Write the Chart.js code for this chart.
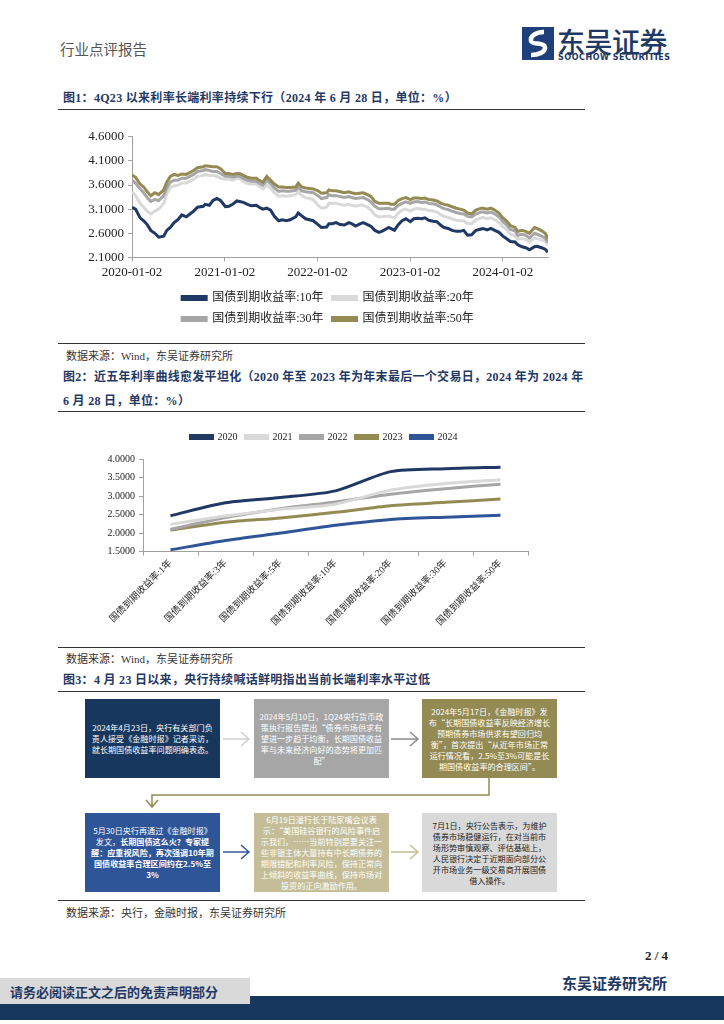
<!DOCTYPE html>
<html>
<head>
<meta charset="utf-8">
<script src="https://cdn.jsdelivr.net/npm/chart.js@4.4.1/dist/chart.umd.min.js"></script>
<style>
  body { margin: 0; background: #fff; }
  #page { position: relative; width: 724px; height: 1024px; overflow: hidden;
          font-family: 'Liberation Serif', 'Times New Roman', 'Noto Sans CJK SC', serif; }
  .abs { position: absolute; }
  .title { position: absolute; left: 63px; font-size: 12px; font-weight: bold; color: #1f3864; line-height: 24px; letter-spacing: 0.3px; }
  .rule { position: absolute; left: 58px; width: 527px; height: 0; border-top: 1.5px solid #333; }
  .src { position: absolute; left: 66px; font-size: 11px; color: #333; }
  .box { position: absolute; width: 135px; height: 79px; display: flex; align-items: center; justify-content: center;
         text-align: center; font-size: 8.1px; line-height: 1.36; color: #fff; padding: 0 5px; box-sizing: border-box;
         font-family: 'Noto Sans CJK SC', sans-serif; }
</style>
</head>
<body>
<div id="page">

  <div class="abs" style="left:60px;top:38px;font-size:14.5px;color:#555;font-family:'Noto Sans CJK SC';">行业点评报告</div>

  <svg class="abs" style="left:522px;top:27px" width="32" height="33" viewBox="0 0 32 33">
    <rect x="0" y="0" width="32" height="33" fill="#1f3f7a"/>
    <path d="M22 5 C14 5 8 9 9 14 C10 18 22 15 23 20 C24 25 16 28 9 28" stroke="#fff" stroke-width="4.5" fill="none"/>
  </svg>
  <div class="abs" style="left:557px;top:21px;font-size:28px;color:#1f3864;font-family:'Noto Sans CJK SC';font-weight:500;letter-spacing:-0.5px">东吴证券</div>
  <div class="abs" style="left:558px;top:53px;font-size:8px;color:#1f3864;font-family:'DejaVu Sans';font-weight:bold;letter-spacing:0.55px">SOOCHOW SECURITIES</div>

  <div class="title" style="top:86px">图1：4Q23 以来利率长端利率持续下行（2024 年 6 月 28 日，单位：%）</div>
  <div class="rule" style="top:109px"></div>

  <div class="abs" style="left:60px;top:125px;width:546px;height:210px"><canvas id="curveHistory"></canvas></div>

  <div class="rule" style="top:343px"></div>
  <div class="src" style="top:347px">数据来源：Wind，东吴证券研究所</div>

  <div class="title" style="top:365px;width:525px">图2：近五年利率曲线愈发平坦化（2020 年至 2023 年为年末最后一个交易日，2024 年为 2024 年<br>6 月 28 日，单位：%）</div>
  <div class="rule" style="top:411px"></div>

  <div class="abs" style="left:60px;top:431px;width:527px;height:199px"><canvas id="curveShape"></canvas></div>

  <div class="rule" style="top:647px"></div>
  <div class="src" style="top:650px">数据来源：Wind，东吴证券研究所</div>

  <div class="title" style="top:668px">图3：4 月 23 日以来，央行持续喊话鲜明指出当前长端利率水平过低</div>
  <div class="rule" style="top:691px"></div>

  <div class="box" style="left:85px;top:699px;background:#17375e"><div>2024年4月23日，央行有关部门负责人接受《金融时报》记者采访，就长期国债收益率问题明确表态。</div></div>
  <div class="box" style="left:254px;top:699px;background:#a6a6a6"><div>2024年5月10日，1Q24央行货币政策执行报告提出“债券市场供求有望进一步趋于均衡，长期国债收益率与未来经济向好的态势将更加匹配”</div></div>
  <div class="box" style="left:422px;top:699px;background:#948a54"><div>2024年5月17日，《金融时报》发布“长期国债收益率反映经济增长预期债券市场供求有望回归均衡”，首次提出“从近年市场正常运行情况看，2.5%至3%可能是长期国债收益率的合理区间”。</div></div>

  <div class="box" style="left:85px;top:813px;background:#2e5597"><div>5月30日央行再通过《金融时报》发文，<b>长期国债这么火？专家提醒：应重视风险，再次强调10年期国债收益率合理区间约在2.5%至3%</b></div></div>
  <div class="box" style="left:254px;top:813px;background:#c4bd97"><div>6月19日潘行长于陆家嘴会议表示：“美国硅谷银行的风险事件启示我们，……当前特别是要关注一些非银主体大量持有中长期债券的期限错配和利率风险，保持正常向上倾斜的收益率曲线，保持市场对投资的正向激励作用。</div></div>
  <div class="box" style="left:422px;top:813px;background:#d9d9d9;color:#222;padding:0 9px"><div>7月1日，央行公告表示，为维护债券市场稳健运行，在对当前市场形势审慎观察、评估基础上，人民银行决定于近期面向部分公开市场业务一级交易商开展国债借入操作。</div></div>

  <svg class="abs" style="left:0;top:690px" width="724" height="220">
    <g fill="none" stroke-width="1.5">
      <path d="M223 49 H249 M241 42 L249 49 L241 56" stroke="#d0d0d0"/>
      <path d="M391 49 H418 M410 42 L418 49 L410 56" stroke="#8c8c8c"/>
      <path d="M489 88 V105 H152 V117 M146 110 L152 117 L158 110" stroke="#948a54"/>
      <path d="M223 162 H249 M241 155 L249 162 L241 169" stroke="#2e5597"/>
      <path d="M391 162 H418 M410 155 L418 162 L410 169" stroke="#c4bd97"/>
    </g>
  </svg>

  <div class="rule" style="top:900px"></div>
  <div class="src" style="top:904px">数据来源：央行，金融时报，东吴证券研究所</div>

  <div class="abs" style="left:645px;top:948px;font-size:13px;font-weight:bold;color:#222">2 / 4</div>
  <div class="abs" style="left:562px;top:972px;font-size:15px;font-weight:bold;color:#1f3864;font-family:'Noto Sans CJK SC'">东吴证券研究所</div>
  <div class="abs" style="left:0;top:996px;width:724px;height:24px;background:#17375e"></div>
  <div class="abs" style="left:0;top:978px;width:250px;height:26px;background:#d9d9d9"></div>
  <div class="abs" style="left:10px;top:982px;font-size:13px;font-weight:bold;color:#1f3864;font-family:'Noto Sans CJK SC'">请务必阅读正文之后的免责声明部分</div>
</div>

<script>
// Chart 1 data: semi-monthly readings of the daily yield series
const dates = [
  '2020-01-02','2020-01-16','2020-02-03','2020-02-17','2020-03-02','2020-03-16','2020-04-01','2020-04-16','2020-05-06','2020-05-18','2020-06-01','2020-06-16',
  '2020-07-01','2020-07-16','2020-08-03','2020-08-17','2020-09-01','2020-09-16','2020-10-09','2020-10-16','2020-11-02','2020-11-16','2020-12-01','2020-12-16',
  '2021-01-04','2021-01-18','2021-02-01','2021-02-18','2021-03-01','2021-03-16','2021-04-01','2021-04-16','2021-05-06','2021-05-17','2021-06-01','2021-06-16',
  '2021-07-01','2021-07-16','2021-08-02','2021-08-16','2021-09-01','2021-09-16','2021-10-08','2021-10-18','2021-11-01','2021-11-16','2021-12-01','2021-12-16',
  '2022-01-04','2022-01-17','2022-02-07','2022-02-16','2022-03-01','2022-03-16','2022-04-01','2022-04-18','2022-05-05','2022-05-16','2022-06-01','2022-06-16',
  '2022-07-01','2022-07-18','2022-08-01','2022-08-16','2022-09-01','2022-09-16','2022-10-10','2022-10-17','2022-11-01','2022-11-16','2022-12-01','2022-12-16',
  '2023-01-03','2023-01-16','2023-02-01','2023-02-16','2023-03-01','2023-03-16','2023-04-03','2023-04-17','2023-05-04','2023-05-16','2023-06-01','2023-06-16',
  '2023-07-03','2023-07-17','2023-08-01','2023-08-16','2023-09-01','2023-09-18','2023-10-09','2023-10-16','2023-11-01','2023-11-16','2023-12-01','2023-12-18',
  '2024-01-02','2024-01-16','2024-02-01','2024-02-19','2024-03-01','2024-03-18','2024-04-01','2024-04-16','2024-05-06','2024-05-16','2024-06-03','2024-06-17',
  '2024-06-28'
];
const y10 = [
  3.14, 3.10, 2.92, 2.86, 2.78, 2.66, 2.60, 2.52, 2.54, 2.66, 2.72, 2.82, 2.88, 2.98, 2.94, 3.00, 3.06, 3.14, 3.16, 3.20, 3.18, 3.28, 3.32, 3.28,
  3.15, 3.16, 3.20, 3.27, 3.26, 3.24, 3.20, 3.17, 3.18, 3.14, 3.10, 3.12, 3.08, 2.95, 2.86, 2.88, 2.86, 2.88, 2.94, 3.02, 2.96, 2.90, 2.88, 2.86,
  2.78, 2.72, 2.73, 2.80, 2.80, 2.82, 2.78, 2.77, 2.82, 2.80, 2.75, 2.79, 2.82, 2.78, 2.74, 2.66, 2.62, 2.65, 2.72, 2.70, 2.66, 2.78, 2.86, 2.90,
  2.84, 2.90, 2.91, 2.90, 2.92, 2.87, 2.85, 2.84, 2.76, 2.72, 2.70, 2.66, 2.64, 2.64, 2.66, 2.56, 2.57, 2.66, 2.69, 2.70, 2.67, 2.70, 2.66, 2.62,
  2.54, 2.49, 2.43, 2.42, 2.36, 2.32, 2.30, 2.26, 2.32, 2.33, 2.30, 2.27, 2.21
];
const y20 = [
  3.46, 3.38, 3.22, 3.14, 3.06, 3.00, 3.06, 3.10, 3.22, 3.42, 3.55, 3.58, 3.60, 3.64, 3.64, 3.68, 3.72, 3.78, 3.80, 3.82, 3.80, 3.80, 3.78, 3.74,
  3.72, 3.72, 3.70, 3.74, 3.73, 3.68, 3.63, 3.62, 3.62, 3.58, 3.52, 3.60, 3.54, 3.44, 3.37, 3.38, 3.37, 3.38, 3.40, 3.46, 3.38, 3.34, 3.32, 3.30,
  3.18, 3.12, 3.14, 3.22, 3.22, 3.22, 3.20, 3.18, 3.20, 3.18, 3.16, 3.18, 3.18, 3.14, 3.08, 2.98, 2.94, 2.95, 2.96, 2.94, 2.92, 3.02, 3.08, 3.10,
  3.06, 3.10, 3.12, 3.10, 3.10, 3.07, 3.06, 3.04, 2.98, 2.95, 2.93, 2.90, 2.87, 2.86, 2.86, 2.80, 2.80, 2.88, 2.92, 2.93, 2.90, 2.92, 2.88, 2.82,
  2.74, 2.68, 2.58, 2.55, 2.48, 2.49, 2.47, 2.42, 2.50, 2.49, 2.46, 2.43, 2.36
];
const y30 = [
  3.70, 3.64, 3.52, 3.44, 3.34, 3.26, 3.30, 3.28, 3.38, 3.54, 3.66, 3.70, 3.70, 3.74, 3.74, 3.78, 3.82, 3.88, 3.90, 3.92, 3.90, 3.88, 3.88, 3.84,
  3.78, 3.78, 3.76, 3.78, 3.78, 3.74, 3.70, 3.68, 3.68, 3.64, 3.60, 3.70, 3.63, 3.54, 3.47, 3.48, 3.47, 3.47, 3.49, 3.56, 3.48, 3.46, 3.45, 3.44,
  3.38, 3.32, 3.34, 3.40, 3.38, 3.38, 3.36, 3.34, 3.36, 3.34, 3.32, 3.33, 3.34, 3.30, 3.25, 3.16, 3.11, 3.11, 3.12, 3.10, 3.10, 3.18, 3.22, 3.25,
  3.22, 3.25, 3.26, 3.24, 3.25, 3.22, 3.21, 3.19, 3.14, 3.11, 3.09, 3.06, 3.03, 3.01, 3.00, 2.95, 2.94, 3.00, 3.04, 3.04, 3.02, 3.04, 3.00, 2.94,
  2.84, 2.78, 2.68, 2.65, 2.56, 2.58, 2.56, 2.50, 2.60, 2.58, 2.54, 2.50, 2.41
];
const y50 = [
  3.81, 3.76, 3.62, 3.56, 3.46, 3.38, 3.44, 3.40, 3.50, 3.66, 3.78, 3.82, 3.80, 3.83, 3.82, 3.86, 3.90, 3.96, 3.98, 4.00, 3.99, 3.98, 3.98, 3.94,
  3.84, 3.84, 3.82, 3.84, 3.84, 3.80, 3.76, 3.74, 3.74, 3.70, 3.66, 3.78, 3.70, 3.62, 3.56, 3.56, 3.55, 3.55, 3.56, 3.64, 3.56, 3.54, 3.53, 3.52,
  3.48, 3.43, 3.44, 3.50, 3.48, 3.48, 3.46, 3.44, 3.46, 3.44, 3.42, 3.43, 3.44, 3.40, 3.36, 3.26, 3.22, 3.22, 3.22, 3.20, 3.20, 3.28, 3.32, 3.34,
  3.30, 3.33, 3.33, 3.32, 3.33, 3.30, 3.29, 3.27, 3.22, 3.20, 3.18, 3.15, 3.12, 3.10, 3.08, 3.02, 3.00, 3.08, 3.12, 3.12, 3.10, 3.12, 3.08, 3.02,
  2.92, 2.86, 2.76, 2.72, 2.64, 2.66, 2.64, 2.60, 2.72, 2.70, 2.65, 2.60, 2.48
];
const yearTicks = ['2020-01-02', '2021-01-02', '2022-01-02', '2023-01-02', '2024-01-02'];
const historyNames = ['国债到期收益率:10年', '国债到期收益率:20年', '国债到期收益率:30年', '国债到期收益率:50年'];

// Chart 2 data: yield curve at each year-end
const tenors = ['国债到期收益率:1年', '国债到期收益率:3年', '国债到期收益率:5年', '国债到期收益率:10年',
                '国债到期收益率:20年', '国债到期收益率:30年', '国债到期收益率:50年'];
const curveYears = ['2020', '2021', '2022', '2023', '2024'];
const c2020 = [2.47, 2.82, 2.96, 3.14, 3.66, 3.74, 3.78];
const c2021 = [2.24, 2.46, 2.64, 2.78, 3.16, 3.34, 3.44];
const c2022 = [2.10, 2.42, 2.66, 2.84, 3.05, 3.20, 3.32];
const c2023 = [2.08, 2.29, 2.41, 2.56, 2.74, 2.83, 2.92];
const c2024 = [1.55, 1.80, 2.00, 2.21, 2.37, 2.43, 2.48];

const FONT = "'Liberation Serif', 'Times New Roman', 'Noto Sans CJK SC', serif";
const NAVY = '#1f3864', LIGHT = '#d9d9d9', GREY = '#a6a6a6', OLIVE = '#948a54', BLUE = '#2f5597';
const AXIS = '#a0a0a0';

function dayOffset(d) {
    return (Date.parse(d) - Date.parse(dates[0])) / 86400000;
}

function makeSeries(values) {
    return values.map((v, i) => ({ x: dayOffset(dates[i]), y: v }));
}

// shifts the legend box without changing the plot area
const legendNudge = {
    id: 'legendNudge',
    afterLayout(chart, args, opts) {
        const lg = chart.legend;
        if (!lg) return;
        const dx = opts.dx || 0, dy = opts.dy || 0;
        lg.left += dx; lg.right += dx;
        lg.top += dy; lg.bottom += dy;
    }
};

function initHistoryChart() {
    const ctx = document.getElementById('curveHistory').getContext('2d');
    const colors = [NAVY, LIGHT, GREY, OLIVE];
    const series = [y10, y20, y30, y50];
    new Chart(ctx, {
        type: 'line',
        data: {
            datasets: series.map((s, i) => ({
                label: historyNames[i],
                data: makeSeries(s),
                borderColor: colors[i],
                backgroundColor: colors[i],
                borderWidth: 3,
                pointRadius: 0,
                tension: 0,
                order: 3 - i
            }))
        },
        plugins: [legendNudge],
        options: {
            responsive: true,
            maintainAspectRatio: false,
            animation: false,
            layout: { padding: { top: 3, right: 58, left: 0, bottom: 0 } },
            plugins: {
                tooltip: { enabled: false },
                legendNudge: { dx: -12 },
                legend: {
                    position: 'bottom',
                    fullSize: false,   // width of the plot, so two entries per row
                    labels: {
                        sort: (a, b) => a.datasetIndex - b.datasetIndex,
                        boxWidth: 24, boxHeight: 3, padding: 9,
                        color: '#222', font: { family: FONT, size: 12 }
                    }
                }
            },
            scales: {
                x: {
                    type: 'linear',
                    min: 0,
                    max: dayOffset(dates[dates.length - 1]),
                    afterBuildTicks: (scale) => {
                        scale.ticks = yearTicks.map(d => ({ value: dayOffset(d) }));
                    },
                    ticks: {
                        autoSkip: false, maxRotation: 0, padding: 3,
                        color: '#222', font: { family: FONT, size: 13 },
                        callback: (v) => yearTicks.find(d => dayOffset(d) === v) || ''
                    },
                    grid: { drawOnChartArea: false, tickLength: 4, color: AXIS },
                    border: { color: AXIS }
                },
                y: {
                    min: 2.1, max: 4.6,
                    afterFit: (scale) => { scale.width = 72; },
                    ticks: {
                        stepSize: 0.5, padding: 4,
                        color: '#222', font: { family: FONT, size: 13 },
                        callback: (v) => v.toFixed(4)
                    },
                    grid: { drawOnChartArea: false, tickLength: 4, color: AXIS },
                    border: { color: AXIS }
                }
            }
        }
    });
}

function initCurveChart() {
    const ctx = document.getElementById('curveShape').getContext('2d');
    const colors = [NAVY, LIGHT, GREY, OLIVE, BLUE];
    const series = [c2020, c2021, c2022, c2023, c2024];
    new Chart(ctx, {
        type: 'line',
        data: {
            labels: tenors,
            datasets: series.map((s, i) => ({
                label: curveYears[i],
                data: s,
                borderColor: colors[i],
                backgroundColor: colors[i],
                borderWidth: 3,
                pointRadius: 0,
                tension: 0.25
            }))
        },
        plugins: [legendNudge],
        options: {
            responsive: true,
            maintainAspectRatio: false,
            animation: false,
            layout: { padding: { top: 0, right: 59, left: 0, bottom: 0 } },
            plugins: {
                tooltip: { enabled: false },
                legendNudge: { dx: 30, dy: -7 },
                legend: {
                    position: 'top',
                    labels: {
                        boxWidth: 22, boxHeight: 3, padding: 8,
                        color: '#222', font: { family: FONT, size: 10 }
                    }
                }
            },
            scales: {
                x: {
                    offset: true,
                    ticks: {
                        autoSkip: false, minRotation: 45, maxRotation: 45, padding: 2,
                        color: '#222', font: { family: FONT, size: 9.5 }
                    },
                    grid: { offset: true, drawOnChartArea: false, tickLength: 4, color: AXIS },
                    border: { color: AXIS }
                },
                y: {
                    min: 1.5, max: 4.0,
                    afterFit: (scale) => { scale.width = 83; },
                    ticks: {
                        stepSize: 0.5, padding: 4,
                        color: '#222', font: { family: FONT, size: 10 },
                        callback: (v) => v.toFixed(4)
                    },
                    grid: { drawOnChartArea: false, tickLength: 4, color: AXIS },
                    border: { color: AXIS }
                }
            }
        }
    });
}

initHistoryChart();
initCurveChart();
</script>
</body>
</html>
